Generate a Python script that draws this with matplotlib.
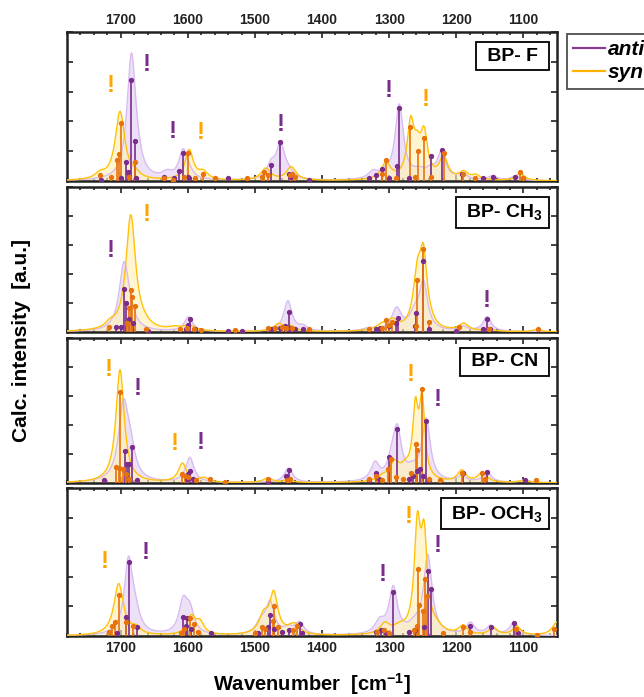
import numpy as np
import matplotlib
matplotlib.use("Agg")
import matplotlib.pyplot as plt
from matplotlib.ticker import MultipleLocator, NullFormatter
from matplotlib.lines import Line2D

plt.rcParams['font.family'] = ['Liberation Sans', 'DejaVu Sans']
plt.rcParams['font.weight'] = 'bold'
plt.rcParams['mathtext.fontset'] = 'custom'
plt.rcParams['mathtext.rm'] = 'Liberation Sans:bold'
plt.rcParams['mathtext.bf'] = 'Liberation Sans:bold'
plt.rcParams['mathtext.default'] = 'bf'

# ---- data: bands are (center, height, hwhm) of the broadened spectra ----
F_ANTI_BANDS = [(1684, 0.78, 6), (1677, 0.09, 7), (1690, 0.04, 5), (1631, 0.04, 7), (1607, 0.19, 6),
                (1598, 0.03, 6), (1476, 0.09, 6), (1462, 0.23, 6), (1450, 0.04, 7), (1324, 0.05, 7),
                (1306, 0.03, 6), (1285, 0.5, 6), (1255, 0.05, 9), (1238, 0.05, 6), (1222, 0.18, 6),
                (1192, 0.04, 7), (1146, 0.03, 6), (1112, 0.03, 6)]
F_SYN_BANDS = [(1731, 0.035, 7), (1701, 0.46, 7), (1678, 0.03, 6), (1598, 0.2, 6), (1577, 0.05, 7),
               (1484, 0.08, 7), (1446, 0.09, 7), (1305, 0.11, 7), (1268, 0.36, 5), (1258, 0.15, 5),
               (1248, 0.28, 5), (1219, 0.15, 6), (1189, 0.05, 6), (1171, 0.03, 6), (1105, 0.05, 6)]
F_ANTI_POS = [1730, 1700, 1692, 1689, 1684, 1679, 1677, 1636, 1620, 1613, 1607, 1600, 1598, 1540, 1476,
              1462, 1450, 1447, 1420, 1330, 1320, 1310, 1300, 1289, 1285, 1270, 1238, 1222, 1192, 1160,
              1146, 1112, 1100]
F_ANTI_INT = [0.01, 0.02, 0.13, 0.06, 0.68, 0.27, 0.02, 0.03, 0.02, 0.07, 0.19, 0.03, 0.02, 0.02, 0.11,
              0.26, 0.05, 0.03, 0.01, 0.02, 0.04, 0.08, 0.02, 0.1, 0.49, 0.02, 0.17, 0.21, 0.05, 0.02,
              0.03, 0.03, 0.02]
F_SYN_POS = [1731, 1714, 1705, 1702, 1700, 1687, 1678, 1636, 1622, 1606, 1599, 1590, 1577, 1560, 1512,
             1490, 1486, 1481, 1448, 1445, 1441, 1311, 1305, 1290, 1269, 1262, 1257, 1248, 1237, 1219,
             1190, 1172, 1105, 1101]
F_SYN_INT = [0.04, 0.03, 0.14, 0.18, 0.39, 0.03, 0.13, 0.02, 0.01, 0.03, 0.185, 0.02, 0.05, 0.02, 0.02,
             0.03, 0.06, 0.04, 0.04, 0.05, 0.03, 0.05, 0.14, 0.02, 0.36, 0.03, 0.2, 0.29, 0.03, 0.19,
             0.05, 0.02, 0.06, 0.02]
F_MARKS = [(1715, 0.64, 'syn'), (1661, 0.78, 'anti'), (1623, 0.33, 'anti'), (1580, 0.325, 'syn'),
           (1462, 0.38, 'anti'), (1300, 0.605, 'anti'), (1246, 0.55, 'syn')]

CH3_ANTI_BANDS = [(1695, 0.46, 7), (1686, 0.06, 6), (1599, 0.1, 6), (1451, 0.21, 6), (1428, 0.03, 6),
                  (1330, 0.02, 9), (1289, 0.15, 7), (1262, 0.1, 7), (1249, 0.32, 6), (1190, 0.03, 7),
                  (1154, 0.1, 6)]
CH3_SYN_BANDS = [(1716, 0.035, 7), (1685, 0.8, 7), (1665, 0.02, 9), (1620, 0.02, 9), (1598, 0.035, 9),
                 (1465, 0.05, 7), (1448, 0.035, 7), (1310, 0.04, 9), (1295, 0.06, 7), (1258, 0.35, 6),
                 (1249, 0.45, 5), (1240, 0.03, 6), (1189, 0.05, 7), (1152, 0.02, 6), (1080, 0.015, 6)]
CH3_ANTI_POS = [1707, 1699, 1695, 1692, 1688, 1681, 1660, 1603, 1600, 1597, 1590, 1540, 1520, 1476, 1463,
                1455, 1450, 1446, 1440, 1428, 1320, 1314, 1300, 1290, 1287, 1262, 1260, 1250, 1240, 1200,
                1160, 1154, 1150]
CH3_ANTI_INT = [0.035, 0.035, 0.3, 0.2, 0.09, 0.06, 0.01, 0.02, 0.05, 0.09, 0.02, 0.01, 0.01, 0.02, 0.03,
                0.04, 0.14, 0.03, 0.02, 0.02, 0.02, 0.03, 0.04, 0.06, 0.1, 0.04, 0.13, 0.49, 0.02, 0.01,
                0.02, 0.09, 0.02]
CH3_SYN_POS = [1717, 1690, 1687, 1685, 1683, 1679, 1662, 1612, 1601, 1591, 1580, 1530, 1480, 1470, 1460,
               1453, 1445, 1420, 1330, 1310, 1305, 1301, 1296, 1260, 1258, 1249, 1241, 1196, 1152, 1079]
CH3_SYN_INT = [0.035, 0.06, 0.165, 0.29, 0.24, 0.18, 0.02, 0.02, 0.03, 0.02, 0.015, 0.015, 0.03, 0.03,
               0.035, 0.03, 0.025, 0.02, 0.02, 0.03, 0.08, 0.05, 0.07, 0.04, 0.36, 0.57, 0.07, 0.035,
               0.02, 0.02]
CH3_MARKS = [(1714.5, 0.56, 'anti'), (1661, 0.81, 'syn'), (1154, 0.22, 'anti')]

CN_ANTI_BANDS = [(1696, 0.5, 7), (1686, 0.18, 7), (1597, 0.17, 6), (1450, 0.1, 6), (1321, 0.12, 6),
                 (1296, 0.1, 6), (1288, 0.33, 6), (1265, 0.06, 9), (1245, 0.42, 6), (1192, 0.04, 6),
                 (1154, 0.07, 6), (1098, 0.02, 6)]
CN_SYN_BANDS = [(1701, 0.78, 6), (1608, 0.13, 6), (1576, 0.03, 7), (1481, 0.03, 7), (1450, 0.02, 6),
                (1310, 0.03, 7), (1292, 0.12, 7), (1276, 0.07, 7), (1261, 0.46, 4), (1251, 0.52, 4),
                (1192, 0.08, 6), (1161, 0.07, 6), (1100, 0.015, 7)]
CN_ANTI_POS = [1725, 1694, 1690, 1687, 1683, 1676, 1601, 1599, 1597, 1593, 1480, 1453, 1450, 1330, 1320,
               1315, 1300, 1288, 1270, 1265, 1258, 1254, 1250, 1245, 1240, 1190, 1155, 1098]
CN_ANTI_INT = [0.02, 0.22, 0.13, 0.13, 0.245, 0.02, 0.03, 0.06, 0.08, 0.03, 0.01, 0.05, 0.09, 0.02, 0.07,
               0.03, 0.18, 0.37, 0.03, 0.05, 0.08, 0.1, 0.05, 0.425, 0.02, 0.07, 0.075, 0.02]
CN_SYN_POS = [1707, 1703, 1701, 1697, 1692, 1688, 1608, 1604, 1600, 1588, 1567, 1545, 1481, 1452, 1448,
              1330, 1320, 1310, 1302, 1298, 1290, 1280, 1268, 1260, 1258, 1251, 1240, 1225, 1192, 1161,
              1158, 1082]
CN_SYN_INT = [0.11, 0.105, 0.63, 0.1, 0.06, 0.03, 0.06, 0.05, 0.04, 0.02, 0.03, 0.01, 0.03, 0.02, 0.03,
              0.03, 0.05, 0.02, 0.1, 0.165, 0.04, 0.03, 0.07, 0.27, 0.225, 0.645, 0.03, 0.02, 0.07, 0.07,
              0.03, 0.02]
CN_MARKS = [(1718.5, 0.78, 'syn'), (1675, 0.655, 'anti'), (1620, 0.27, 'syn'), (1581, 0.28, 'anti'),
            (1268, 0.745, 'syn'), (1227.5, 0.575, 'anti')]

OCH3_ANTI_BANDS = [(1688.5, 0.48, 6), (1679, 0.12, 7), (1607, 0.21, 6), (1597, 0.15, 6), (1491, 0.08, 7),
                   (1477.5, 0.21, 6), (1450, 0.04, 7), (1433.5, 0.08, 6), (1314, 0.08, 7), (1294, 0.31, 6),
                   (1262, 0.05, 9), (1242.5, 0.53, 6), (1179, 0.08, 6), (1149, 0.06, 6), (1114, 0.09, 6)]
OCH3_SYN_BANDS = [(1703, 0.35, 7), (1677, 0.04, 6), (1595, 0.12, 6), (1582, 0.08, 6), (1487, 0.12, 7),
                  (1472, 0.27, 6), (1445, 0.04, 7), (1438, 0.04, 6), (1306.5, 0.07, 7), (1285, 0.04, 9),
                  (1258, 0.68, 4.5), (1248, 0.6, 4.5), (1230, 0.04, 9), (1190, 0.06, 6), (1145, 0.05, 6),
                  (1110, 0.06, 6), (1050, 0.09, 7)]
OCH3_ANTI_POS = [1706, 1692, 1688, 1676, 1607, 1603, 1601, 1595, 1565, 1495, 1481, 1477, 1472, 1460, 1450,
                 1433, 1430, 1320, 1312, 1305, 1294, 1270, 1262, 1248, 1242, 1238, 1180, 1149, 1114, 1108]
OCH3_ANTI_INT = [0.02, 0.13, 0.5, 0.06, 0.13, 0.07, 0.125, 0.05, 0.02, 0.02, 0.06, 0.14, 0.05, 0.03, 0.04,
                 0.08, 0.02, 0.03, 0.04, 0.02, 0.295, 0.03, 0.04, 0.06, 0.44, 0.32, 0.07, 0.06, 0.09, 0.02]
OCH3_SYN_POS = [1718, 1713, 1708, 1702, 1692, 1681, 1610, 1605, 1597, 1591, 1585, 1500, 1490, 1485, 1473,
                1471, 1465, 1443, 1437, 1318, 1307, 1300, 1263, 1258, 1257, 1255, 1250, 1246, 1243, 1220,
                1190, 1180, 1111, 1080, 1055]
OCH3_SYN_INT = [0.03, 0.07, 0.095, 0.275, 0.095, 0.07, 0.02, 0.05, 0.12, 0.08, 0.03, 0.02, 0.06, 0.05,
                0.1, 0.2, 0.06, 0.04, 0.07, 0.03, 0.04, 0.02, 0.04, 0.07, 0.455, 0.21, 0.17, 0.385, 0.27,
                0.02, 0.06, 0.03, 0.05, 0.01, 0.05]
OCH3_MARKS = [(1723.5, 0.5, 'syn'), (1662, 0.565, 'anti'), (1271.5, 0.81, 'syn'), (1227.5, 0.61, 'anti'),
              (1310, 0.415, 'anti')]

LABELS = [' BP- F ', ' BP- CH$_3$', ' BP- CN ', ' BP- OCH$_3$']

# ---- styling ----
ANTI_STICK = '#7b2d8b'
SYN_STICK = '#e8730c'
ANTI_LINE = '#d8bcef'
ANTI_FILL = '#ede1f8'
SYN_LINE = '#ffc20a'
SYN_FILL = '#fff1b8'
MARK_COL = {'anti': '#7b2d8b', 'syn': '#ffa500'}
BROADEN = 1.25

panels = [
    (F_ANTI_BANDS, F_SYN_BANDS, F_ANTI_POS, F_ANTI_INT, F_SYN_POS, F_SYN_INT, F_MARKS),
    (CH3_ANTI_BANDS, CH3_SYN_BANDS, CH3_ANTI_POS, CH3_ANTI_INT, CH3_SYN_POS, CH3_SYN_INT, CH3_MARKS),
    (CN_ANTI_BANDS, CN_SYN_BANDS, CN_ANTI_POS, CN_ANTI_INT, CN_SYN_POS, CN_SYN_INT, CN_MARKS),
    (OCH3_ANTI_BANDS, OCH3_SYN_BANDS, OCH3_ANTI_POS, OCH3_ANTI_INT, OCH3_SYN_POS, OCH3_SYN_INT, OCH3_MARKS),
]

# axes boxes in pixels (top, bottom)
W, H = 644, 697
boxes = [(32, 181), (187, 332), (338, 483), (488, 636)]
left_px, right_px = 67, 557

wn = np.linspace(1790, 1040, 3000)


def lorentz_sum(bands):
    y = np.zeros_like(wn)
    for c, h, g in bands:
        g = g * BROADEN
        y += h * g**2 / ((wn - c)**2 + g**2)
    return y


fig = plt.figure(figsize=(W / 100, H / 100), dpi=100)
axes = []
for i, (top, bot) in enumerate(boxes):
    ax = fig.add_axes([left_px / W, 1 - bot / H, (right_px - left_px) / W, (bot - top) / H])
    axes.append(ax)
    ab, sb, apos, aint, spos, sint, marks = panels[i]
    ya = lorentz_sum(ab)
    ys = lorentz_sum(sb)
    ax.fill_between(wn, 0, ya, color=ANTI_FILL, lw=0, zorder=1)
    ax.fill_between(wn, 0, ys, color=SYN_FILL, alpha=0.65, lw=0, zorder=2)
    ax.plot(wn, ya, color=ANTI_LINE, lw=1.0, zorder=3)
    ax.plot(wn, ys, color=SYN_LINE, lw=1.0, zorder=3)
    ax.vlines(apos, 0, aint, color=ANTI_STICK, lw=1.2, zorder=4)
    ax.plot(apos, aint, 'o', color=ANTI_STICK, ms=2.8, zorder=5)
    ax.vlines(spos, 0, sint, color=SYN_STICK, lw=1.2, zorder=4)
    ax.plot(spos, sint, 'o', color=SYN_STICK, ms=2.8, zorder=5)
    for x, y, who in marks:
        ax.text(x, y, '!', color=MARK_COL[who], fontsize=17, fontweight='bold',
                ha='center', va='center', zorder=6)
    ax.text(0.972, 0.895, LABELS[i], transform=ax.transAxes, ha='right', va='top',
            fontsize=14, fontweight='bold', zorder=7,
            bbox=dict(boxstyle='square,pad=0.28', fc='white', ec='black', lw=1.3))

    ax.set_xlim(1780, 1050)
    ax.set_ylim(0, 1.0)
    ax.xaxis.set_major_locator(MultipleLocator(100))
    ax.xaxis.set_minor_locator(MultipleLocator(20))
    ax.yaxis.set_major_locator(MultipleLocator(0.2))
    ax.yaxis.set_major_formatter(NullFormatter())
    ax.tick_params(which='both', direction='in', top=True, right=True, width=1.2, colors='#222222')
    ax.tick_params(which='major', length=4, labelsize=10)
    ax.tick_params(which='minor', length=2)
    ax.tick_params(axis='x', labeltop=(i == 0), labelbottom=(i == 3))
    for s in ax.spines.values():
        s.set_linewidth(1.8)
        s.set_color('#222222')

fig.text(312 / W, 1 - 684 / H, 'Wavenumber  [cm$^{-1}$]', fontsize=14.5, fontweight='bold',
         ha='center', va='center')
fig.text(22 / W, 1 - 340 / H, 'Calc. intensity  [a.u.]', rotation=90, fontsize=15,
         fontweight='bold', ha='center', va='center')

handles = [Line2D([], [], color='#8b3a96', lw=1.6), Line2D([], [], color='#ffb300', lw=1.6)]
leg = fig.legend(handles, ['anti', 'syn'], loc='upper left', bbox_to_anchor=(567 / W, 1 - 34 / H),
                 frameon=True, fancybox=False, edgecolor='#222222',
                 prop={'weight': 'bold', 'style': 'italic', 'size': 15},
                 handlelength=1.5, handletextpad=0.15, borderpad=0.3, labelspacing=0.2,
                 borderaxespad=0)
leg.get_frame().set_linewidth(1.3)

fig.savefig('out.png', dpi=100)
